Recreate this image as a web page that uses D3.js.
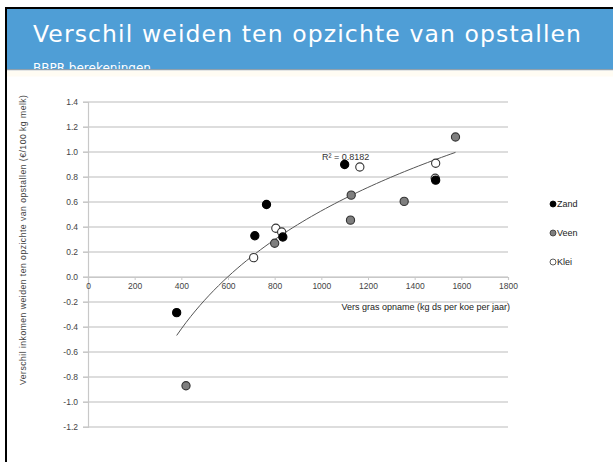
<!DOCTYPE html>
<html>
<head>
<meta charset="utf-8">
<script src="https://cdn.jsdelivr.net/npm/d3@7"></script>
<style>
body{margin:0;background:#fff;}
svg{display:block;}
</style>
</head>
<body>
<div id="chart"></div>
<script>
// data
let seriesNames=["Zand","Veen","Klei"];
let zandX=[380,715,765,835,1100,1490];
let zandY=[-0.285,0.33,0.58,0.32,0.90,0.775];
let veenX=[420,800,1125,1128,1355,1575];
let veenY=[-0.87,0.27,0.455,0.655,0.605,1.12];
let kleiX=[710,805,830,1165,1490,1488];
let kleiY=[0.155,0.39,0.36,0.88,0.91,0.79];
let xTicks=[0,200,400,600,800,1000,1200,1400,1600,1800];
let yTicks=[-1.2,-1.0,-0.8,-0.6,-0.4,-0.2,0.0,0.2,0.4,0.6,0.8,1.0,1.2,1.4];
let r2Label="R² = 0.8182";

let W=613,H=462;
let svg=d3.select("#chart").append("svg")
    .attr("width",W)
    .attr("height",H);

//slide frame + header
svg.append("rect").attr("x",5).attr("y",7).attr("width",W-5).attr("height",H-7).attr("fill","#000");
svg.append("rect").attr("x",7).attr("y",9).attr("width",W-7).attr("height",H-9).attr("fill","#fff");
svg.append("rect").attr("x",7).attr("y",9).attr("width",W-7).attr("height",61).attr("fill","#4f9ed6");
svg.append("text")
    .attr("x",33).attr("y",42)
    .attr("fill","#fff")
    .style("font-family","DejaVu Sans")
    .style("font-size","23.5px")
    .attr("textLength",548)
    .text("Verschil weiden ten opzichte van opstallen");
svg.append("text")
    .attr("x",33).attr("y",72)
    .attr("fill","#fff")
    .style("font-family","DejaVu Sans")
    .style("font-size","12px")
    .text("BBPR berekeningen");
svg.append("rect").attr("x",7).attr("y",69).attr("width",W-7).attr("height",H-69).attr("fill","#fff");
svg.append("rect").attr("x",7).attr("y",69).attr("width",W-7).attr("height",1.5).attr("fill","#8fa0ad");
svg.append("rect").attr("x",7).attr("y",70.5).attr("width",W-7).attr("height",6).attr("fill","#fffcf3");

let x=d3.scaleLinear().domain([0,1800]).range([88,508]);
let y=d3.scaleLinear().domain([-1.2,1.4]).range([427,102]);

let font="Liberation Sans, Arial, sans-serif";

//gridlines
svg.append("g")
    .selectAll("line")
    .data(yTicks)
    .enter().append("line")
    .attr("x1",x(0)-5).attr("x2",x(1800))
    .attr("y1",d=>y(d)).attr("y2",d=>y(d))
    .attr("stroke","#d2d2d2")
    .attr("stroke-width",1.3);

//y axis
let yAxis=svg.append("g")
    .attr("transform","translate("+x(0)+",0)")
    .call(d3.axisLeft(y).tickValues(yTicks).tickFormat(d=>d.toFixed(1)).tickSize(5).tickPadding(5));
yAxis.select(".domain").attr("stroke","#c8c8c8").attr("stroke-width",1.2);
yAxis.selectAll(".tick line").attr("stroke","#c8c8c8");
yAxis.selectAll("text").style("font-family",font).style("font-size","8.5px").attr("fill","#444");

//x axis at zero
let xAxis=svg.append("g")
    .attr("transform","translate(0,"+y(0)+")")
    .call(d3.axisBottom(x).tickValues(xTicks).tickFormat(d=>String(d)).tickSize(3).tickPadding(3));
xAxis.select(".domain").attr("stroke","#c8c8c8").attr("stroke-width",1.2);
xAxis.selectAll(".tick line").attr("stroke","#c8c8c8");
xAxis.selectAll("text").style("font-family",font).style("font-size","8.5px").attr("fill","#444");

//axis titles
svg.append("text")
    .attr("x",x(1800)+2).attr("y",y(0)+33)
    .attr("text-anchor","end")
    .style("font-family",font).style("font-size","9px").attr("fill","#222")
    .text("Vers gras opname (kg ds per koe per jaar)");
svg.append("text")
    .attr("transform","translate(26,240) rotate(-90)")
    .attr("text-anchor","middle")
    .style("font-family",font).style("font-size","8.6px").attr("fill","#444")
    .attr("textLength",290)
    .text("Verschil inkomen weiden ten opzichte van opstallen (€/100 kg melk)");

//logarithmic trendline from all points
let allX=zandX.concat(veenX,kleiX);
let allY=zandY.concat(veenY,kleiY);
let lx=allX.map(v=>Math.log(v));
let mx=d3.mean(lx),my=d3.mean(allY);
let a=d3.sum(lx,(v,i)=>(v-mx)*(allY[i]-my))/d3.sum(lx,v=>(v-mx)*(v-mx));
let b=my-a*mx;
let xmin=d3.min(allX),xmax=d3.max(allX);
let trend=d3.range(0,61).map(i=>xmin+(xmax-xmin)*i/60);
svg.append("path")
    .datum(trend)
    .attr("fill","none")
    .attr("stroke","#555")
    .attr("stroke-width",1)
    .attr("d",d3.line().x(d=>x(d)).y(d=>y(a*Math.log(d)+b)));

svg.append("text")
    .attr("x",322).attr("y",160)
    .style("font-family",font).style("font-size","9px").attr("fill","#333")
    .text(r2Label);

//points
let styles={Zand:{fill:"#000",stroke:"#000"},Veen:{fill:"#7f7f7f",stroke:"#333"},Klei:{fill:"#fff",stroke:"#333"}};
let series=[
    {name:"Klei",xs:kleiX,ys:kleiY},
    {name:"Veen",xs:veenX,ys:veenY},
    {name:"Zand",xs:zandX,ys:zandY}
];
series.forEach(s=>{
    svg.append("g")
        .selectAll("circle")
        .data(s.xs.map((v,i)=>({x:v,y:s.ys[i]})))
        .enter().append("circle")
        .attr("cx",d=>x(d.x))
        .attr("cy",d=>y(d.y))
        .attr("r",4.1)
        .attr("fill",styles[s.name].fill)
        .attr("stroke",styles[s.name].stroke)
        .attr("stroke-width",1.1);
});

//legend
let legend=svg.append("g").selectAll("g")
    .data(seriesNames)
    .enter().append("g")
    .attr("transform",(d,i)=>"translate(553,"+(204+i*29)+")");
legend.append("circle")
    .attr("r",3)
    .attr("fill",d=>styles[d].fill)
    .attr("stroke",d=>styles[d].stroke)
    .attr("stroke-width",0.8);
legend.append("text")
    .attr("x",4).attr("y",3)
    .style("font-family",font).style("font-size","9px").attr("fill","#222")
    .text(d=>d);
</script>
</body>
</html>
